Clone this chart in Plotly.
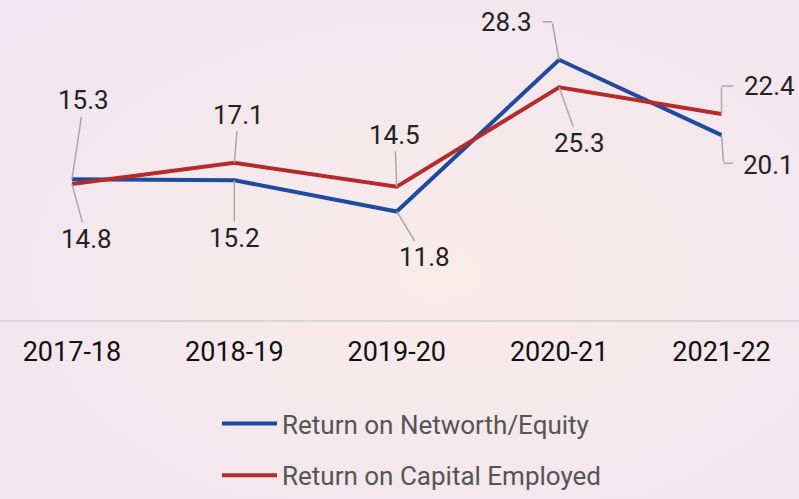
import base64
import plotly.graph_objects as go

categories = ["2017-18", "2018-19", "2019-20", "2020-21", "2021-22"]
roe = [15.3, 15.2, 11.8, 28.3, 20.1]
roce = [14.8, 17.1, 14.5, 25.3, 22.4]
series_names = ["Return on Networth/Equity", "Return on Capital Employed"]

BLUE = "#1f4a9e"
RED = "#b52b2b"
LEADER = "#a8a8a8"
FONT = "Roboto"

# label placement (pixel offsets of label centre from point; ay positive = down)
roe_offsets = [(12, -79), (0, 58), (28, 46), None, None]
roce_offsets = [(15, 55), (4, -48), (-2, -52), (20, 56), None]
# elbow leaders: (bend dx, bend dy, horizontal length, text dx, text dy)
roe_elbows = {3: (-7, -38, -11, -53, -38), 4: (2, 28, 11, 47, 30)}
roce_elbows = {4: (0, -28, 13, 48, -28)}

fig = go.Figure()
fig.add_trace(go.Scatter(x=categories, y=roe, mode="lines", name=series_names[0],
                         line=dict(color=BLUE, width=4), legendgroup="a"))
fig.add_trace(go.Scatter(x=categories, y=roce, mode="lines", name=series_names[1],
                         line=dict(color=RED, width=4), legendgroup="b"))

ann = []
def add_labels(vals, offsets, elbows):
    for i, v in enumerate(vals):
        if offsets[i] is not None:
            dx, dy = offsets[i]
            ann.append(dict(x=categories[i], y=v, text=f"{v}", showarrow=True,
                            arrowhead=0, arrowwidth=1.5, arrowcolor=LEADER,
                            ax=dx, ay=dy, standoff=0,
                            font=dict(family=FONT, size=26, color="#222222")))
        else:
            bx, by, hl, tx, ty = elbows[i]
            ann.append(dict(x=categories[i], y=v, text="", showarrow=True,
                            arrowhead=0, arrowwidth=1.5, arrowcolor=LEADER,
                            ax=bx, ay=by, standoff=0))
            ann.append(dict(x=categories[i], y=v, text="", showarrow=True,
                            arrowhead=0, arrowwidth=1.5, arrowcolor=LEADER,
                            xshift=bx, yshift=-by, ax=hl, ay=0, standoff=0))
            ann.append(dict(x=categories[i], y=v, text=f"{v}", showarrow=False,
                            xshift=tx, yshift=-ty,
                            font=dict(family=FONT, size=26, color="#222222")))

add_labels(roe, roe_offsets, roe_elbows)
add_labels(roce, roce_offsets, roce_elbows)

svg = """<svg xmlns='http://www.w3.org/2000/svg' width='799' height='499'>
<defs><radialGradient id='g' cx='55%' cy='55%' r='75%'>
<stop offset='0' stop-color='#f9ebea'/><stop offset='1' stop-color='#f1e5ef'/>
</radialGradient></defs><rect width='799' height='499' fill='url(#g)'/></svg>"""
src = "data:image/svg+xml;base64," + base64.b64encode(svg.encode()).decode()

fig.update_layout(
    width=799, height=499,
    margin=dict(l=0, r=0, t=0, b=179),
    paper_bgcolor="#f5e8ec", plot_bgcolor="rgba(0,0,0,0)",
    images=[dict(source=src, xref="paper", yref="paper", x=0, y=1,
                 sizex=1, sizey=499 / 320, sizing="stretch", layer="below")],
    xaxis=dict(range=[-0.443, 4.477], showgrid=False, zeroline=False,
               showline=True, linecolor="#d8d6d8", linewidth=2,
               tickfont=dict(family=FONT, size=27, color="#111111"),
               ticks="", ticklabelstandoff=7, fixedrange=True, automargin=False),
    yaxis=dict(range=[0, 34.8], visible=False, fixedrange=True),
    legend=dict(orientation="v", x=217 / 799, xanchor="left", y=-0.5593, yanchor="bottom",
                font=dict(family=FONT, size=26, color="#555555"),
                bgcolor="rgba(0,0,0,0)", tracegroupgap=15, itemwidth=55),
    annotations=ann,
    showlegend=True,
)

fig.write_html("out.html", config={"displayModeBar": False},
               post_script="document.body.style.margin='0';")
